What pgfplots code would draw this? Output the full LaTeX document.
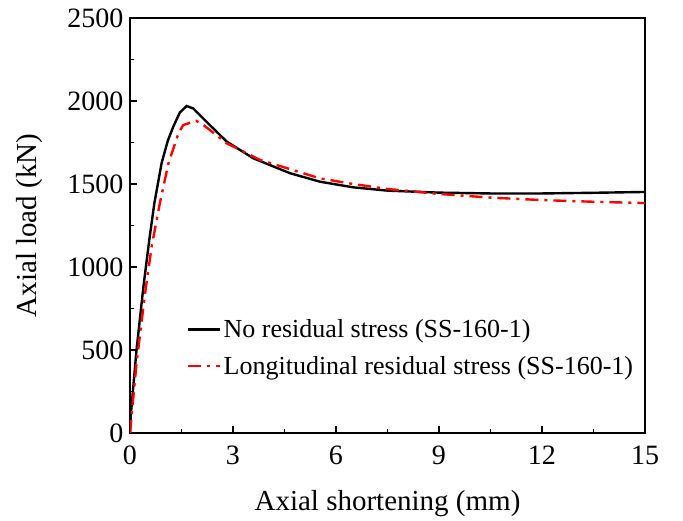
\documentclass[border=0pt]{standalone}
\usepackage{pgfplots}
\pgfplotsset{compat=1.18}
\usepackage{fontspec}
\setmainfont{Liberation Serif}
\begin{document}
\begin{tikzpicture}
\begin{axis}[
  scale only axis,
  width=515pt, height=415pt,
  xmin=0, xmax=15, ymin=0, ymax=2500,
  xtick={0,3,...,15}, ytick={0,500,...,2500},
  minor x tick num=1, minor y tick num=1,
  tick align=inside,
  xtick pos=lower, ytick pos=left,
  major tick length=7pt, minor tick length=4pt,
  axis line style={line width=1.4pt},
  every tick/.style={line width=1.2pt, black},
  font=\fontsize{29}{34}\selectfont,
  tick label style={font=\fontsize{28}{33}\selectfont},
  /pgf/number format/assume math mode=true,
  /pgf/number format/set thousands separator={},
  xticklabel style={yshift=-9pt},
  yticklabel style={xshift=-3pt},
  xlabel={Axial shortening (mm)},
  ylabel={Axial load (kN)},
  xlabel style={yshift=-19pt},
  ylabel style={yshift=18pt},
  legend style={draw=none, fill=none, at={(0.105,0.283)}, anchor=north west,
    font=\fontsize{26}{30}\selectfont, row sep=13pt,
    /tikz/every even column/.append style={column sep=7pt}},
  legend cell align=left,
  legend image code/.code={\draw[#1] (0pt,0pt) -- (32pt,0pt);},
]
\addplot[black, line width=2.4pt] coordinates {
(0,0)(0.02,100)(0.19,500)(0.39,880)(0.56,1160)(0.71,1385)(0.92,1625)(1.1,1760)(1.26,1845)(1.45,1930)(1.65,1970)(1.84,1955)(2.3,1860)(2.82,1755)(3.59,1655)(4.66,1565)(5.53,1514)(6.5,1480)(7.5,1460)(9,1448)(10.5,1443)(12,1443)(13.5,1447)(15,1452)
};
\addlegendentry{No residual stress (SS-160-1)}
\addplot[red, line width=2.4pt, dash pattern=on 13pt off 6pt on 3pt off 6pt] coordinates {
(0,0)(0.19,420)(0.44,843)(0.63,1122)(0.87,1385)(1.12,1625)(1.41,1805)(1.55,1855)(1.92,1880)(2.08,1865)(2.82,1745)(3.79,1645)(5.53,1534)(6.5,1500)(7.5,1470)(9,1440)(10.5,1418)(12,1403)(13.5,1393)(15,1385)
};
\addlegendentry{Longitudinal residual stress (SS-160-1)}
\end{axis}
\path[use as bounding box] ([shift={(-130pt,-87pt)}]current axis.south west) rectangle ([shift={(38pt,18pt)}]current axis.north east);
\end{tikzpicture}
\end{document}
